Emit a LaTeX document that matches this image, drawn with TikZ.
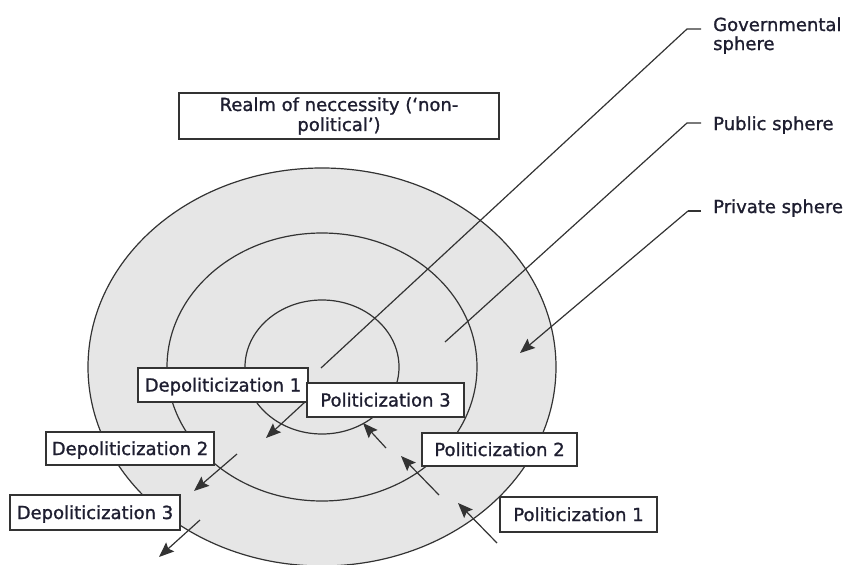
\documentclass[tikz,border=0pt]{standalone}
\usepackage{fontspec}
\setmainfont{DejaVu Sans}[BoldFont={DejaVu Sans}, BoldFeatures={FakeBold=1.2}]
\usetikzlibrary{arrows.meta}
\definecolor{ln}{HTML}{333333}
\definecolor{fillg}{HTML}{E6E6E6}
\definecolor{txt}{HTML}{1E1E30}
\begin{document}
\begin{tikzpicture}[x=1pt,y=-1pt,
  lbl/.style={font=\fontsize{18}{19}\selectfont\bfseries, text=txt, inner sep=0pt},
  boxlbl/.style={lbl, draw=ln, line width=1.1pt, fill=white, text height=13pt, text depth=0pt},
  ring/.style={draw=ln, line width=1.2pt, fill=fillg},
  leader/.style={draw=ln, line width=1.2pt},
  arr/.style={draw=ln, line width=1.2pt, -{Stealth[length=15pt,width=12pt,inset=2.5pt]}}]
\useasboundingbox (0,0) rectangle (844,565);

% concentric spheres
\coordinate (c) at (322,367);
\draw[ring] (c) ellipse [x radius=234pt, y radius=199pt];
\draw[ring] (c) ellipse [x radius=155pt, y radius=134pt];
\draw[ring] (c) ellipse [x radius=77pt, y radius=67pt];

% right-hand labels
\node[lbl, anchor=base west, align=left] (gov) at (713,50) {Governmental\\sphere};
\node[lbl, anchor=base west] (pub) at (713,130) {Public sphere};
\node[lbl, anchor=base west] (priv) at (713,213) {Private sphere};

\coordinate (govk) at (687,29);
\coordinate (pubk) at (687,123);
\coordinate (privk) at (688,211);
\coordinate (gove) at (321,368);
\coordinate (pube) at (445,342);
\coordinate (prive) at (520,353);
\draw[leader] (701,29) -- (govk) -- (gove);
\draw[leader] (701,123) -- (pubk) -- (pube);
\draw[leader] (701,211) -- (privk);
\draw[arr] (privk) -- (prive);

% realm box
\node[lbl, draw=ln, line width=1.1pt, fill=white, minimum width=320pt, minimum height=46pt, align=center,
  font=\fontsize{18}{20}\selectfont\bfseries]
  (realm) at (339,116) {Realm of neccessity (‘non-\\political’)};

% boxes
\node[boxlbl, minimum width=170pt, minimum height=34pt] (d1) at (223,385) {Depoliticization 1};
\node[boxlbl, minimum width=168pt, minimum height=33pt] (d2) at (130,448.5) {Depoliticization 2};
\node[boxlbl, minimum width=170pt, minimum height=35pt] (d3) at (95,512.5) {Depoliticization 3};
\node[boxlbl, minimum width=157pt, minimum height=34pt] (p3) at (385.5,400) {Politicization 3};
\node[boxlbl, minimum width=155pt, minimum height=33pt] (p2) at (499.5,449.5) {Politicization 2};
\node[boxlbl, minimum width=157pt, minimum height=35pt] (p1) at (578.5,514.5) {Politicization 1};

% arrows
\coordinate (d1s) at (305,402); \coordinate (d1t) at (266,438);
\coordinate (d2s) at (237,454); \coordinate (d2t) at (194,491);
\coordinate (d3s) at (200,520); \coordinate (d3t) at (159,557);
\coordinate (p3s) at (386,448); \coordinate (p3t) at (363,423);
\coordinate (p2s) at (439,495); \coordinate (p2t) at (401,456);
\coordinate (p1s) at (497,543); \coordinate (p1t) at (458,503);
\draw[arr] (d1s) -- (d1t);
\draw[arr] (d2s) -- (d2t);
\draw[arr] (d3s) -- (d3t);
\draw[arr] (p3s) -- (p3t);
\draw[arr] (p2s) -- (p2t);
\draw[arr] (p1s) -- (p1t);
\end{tikzpicture}
\end{document}
